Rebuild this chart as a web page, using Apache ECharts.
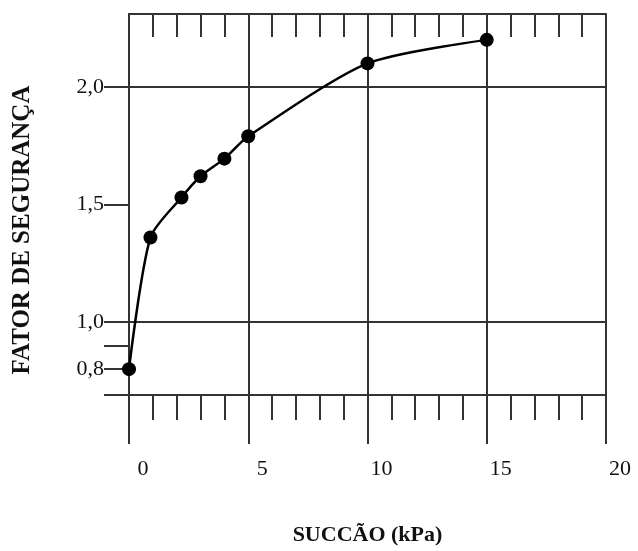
<!DOCTYPE html>
<html>
<head>
<meta charset="utf-8">
<script src="https://cdn.jsdelivr.net/npm/echarts@6/dist/echarts.min.js"></script>
<style>
html,body{margin:0;padding:0;background:#fff;}
#chart{width:638px;height:551px;}
</style>
</head>
<body>
<div id="chart"></div>
<script>
// Data
const succao = [0, 0.9, 2.2, 3.0, 4.0, 5.0, 10.0, 15.0];
const fator  = [0.80, 1.36, 1.53, 1.62, 1.695, 1.79, 2.10, 2.20];
const yLabelValues = [0.8, 1.0, 1.5, 2.0];
const yTickValues = [0.69, 0.8, 0.9, 1.0, 1.5, 2.0];
const yGridValues = [1.0, 2.0];
const xTitle = 'SUCCÃO (kPa)';
const yTitle = 'FATOR DE SEGURANÇA';

const chart = echarts.init(document.getElementById('chart'), null, {renderer: 'canvas'});
const lineCol = '#333';
const font = 'Liberation Serif';
const yMin = 0.69, yMax = 2.31;

chart.setOption({
  backgroundColor: '#fff',
  animation: false,
  grid: {left: 129, right: 32, top: 14, bottom: 155, containLabel: false},
  xAxis: [
    { // minor ticks bottom
      type: 'value', position: 'bottom', min: 0, max: 20, interval: 1,
      axisLine: {show: true, lineStyle: {color: lineCol, width: 2}},
      axisTick: {show: true, inside: false, length: 25, lineStyle: {color: lineCol, width: 2}},
      axisLabel: {show: false},
      splitLine: {show: false}
    },
    { // major ticks bottom, labels, vertical gridlines
      type: 'value', position: 'bottom', min: 0, max: 20, interval: 5,
      axisLine: {show: false},
      axisTick: {show: true, inside: false, length: 49, lineStyle: {color: lineCol, width: 2}},
      axisLabel: {show: true, margin: 63, fontFamily: font, fontSize: 22, color: '#111',
                  padding: [0, 0, 0, 28]},
      splitLine: {show: true, lineStyle: {color: lineCol, width: 2}},
      name: xTitle, nameLocation: 'middle', nameGap: 129,
      nameTextStyle: {fontFamily: font, fontWeight: 'bold', fontSize: 22, color: '#111'}
    },
    { // top border with inside minor ticks
      type: 'value', position: 'top', min: 0, max: 20, interval: 1,
      axisLine: {show: true, lineStyle: {color: lineCol, width: 2}},
      axisTick: {show: true, inside: true, length: 23, lineStyle: {color: lineCol, width: 2}},
      axisLabel: {show: false},
      splitLine: {show: false}
    }
  ],
  yAxis: [
    {
      type: 'value', position: 'left', min: yMin, max: yMax,
      axisLine: {show: true, lineStyle: {color: lineCol, width: 2}},
      axisTick: {show: true, inside: false, length: 25, customValues: yTickValues,
                 lineStyle: {color: lineCol, width: 2}},
      axisLabel: {show: true, customValues: yLabelValues, margin: 25,
                  fontFamily: font, fontSize: 22, color: '#111',
                  formatter: v => v.toFixed(1).replace('.', ',')},
      splitLine: {show: false}
    },
    {
      type: 'value', position: 'right', min: yMin, max: yMax,
      axisLine: {show: true, lineStyle: {color: lineCol, width: 2}},
      axisTick: {show: false, customValues: yGridValues},
      axisLabel: {show: false},
      splitLine: {show: true, lineStyle: {color: lineCol, width: 2}}
    }
  ],
  graphic: [
    {
      type: 'text', x: 23, y: 230, rotation: Math.PI / 2,
      style: {text: yTitle, fontFamily: font, fontWeight: 'bold', fontSize: 25,
              fill: '#111', align: 'center', verticalAlign: 'middle'}
    }
  ],
  series: [{
    type: 'line', xAxisIndex: 0, yAxisIndex: 0,
    data: succao.map((x, i) => [x, fator[i]]),
    smooth: 0.25,
    symbol: 'circle', symbolSize: 14,
    itemStyle: {color: '#000'},
    lineStyle: {color: '#000', width: 2.5},
    z: 5
  }]
});
</script>
</body>
</html>
